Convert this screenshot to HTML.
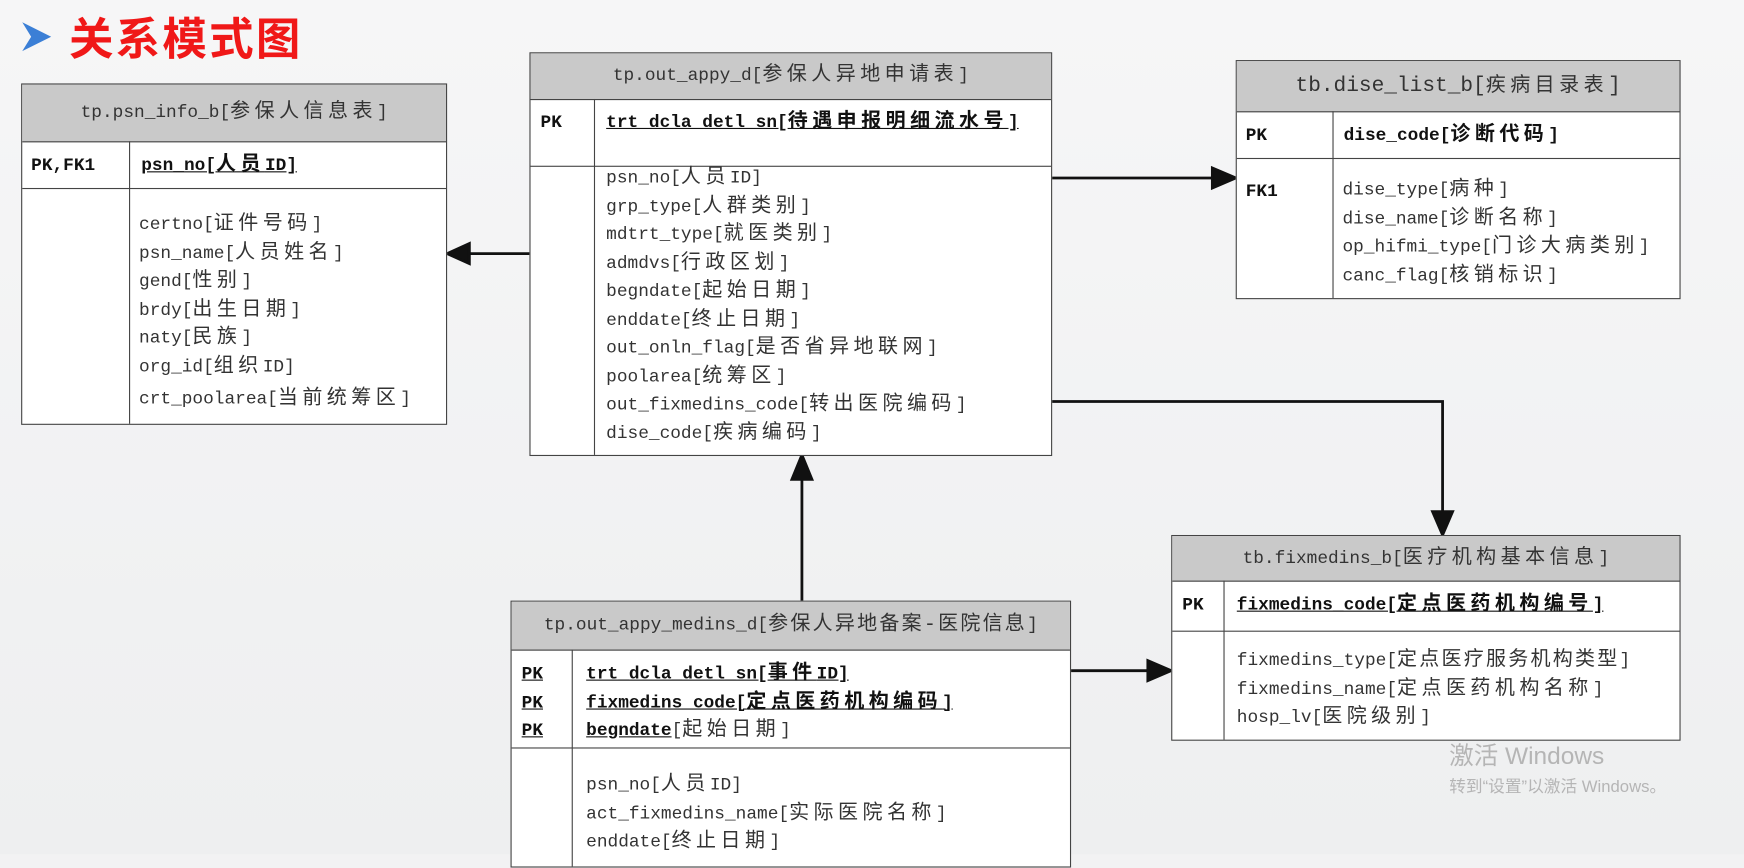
<!DOCTYPE html>
<html><head><meta charset="utf-8">
<style>
html,body{margin:0;padding:0;}
body{width:1744px;height:854px;overflow:hidden;background:#f2f2f3;}
#w{position:absolute;left:0;top:0;width:1568px;height:768px;transform:scale(1.11224);transform-origin:0 0;
background:linear-gradient(180deg,#f6f6f7 0%,#eeeff0 100%);font-family:"Liberation Mono","Noto Sans CJK SC",monospace;color:#222;}
.t{position:absolute;background:#fff;border:1.5px solid #444;box-sizing:border-box;}
.h{position:absolute;left:0;right:0;top:0;background:#c9c9c9;border-bottom:1.5px solid #444;text-align:center;font-size:16px;color:#333;}
.hl{position:absolute;left:0;right:0;border-top:1.5px solid #444;}
.vl{position:absolute;top:0;bottom:0;border-left:1.5px solid #444;}
.x{position:absolute;font-size:16px;white-space:nowrap;line-height:20px;color:#333;}
.b{font-weight:bold;color:#111;}
.u{text-decoration:underline;}
i{font-style:normal;font-size:18px;letter-spacing:4px;}
</style></head><body><div id="w">
<svg style="position:absolute;left:0;top:0" width="1568" height="768">
<polygon points="20,20 46,33 20,46 28,33" fill="#3b7fd6"/>
<g stroke="#111" stroke-width="2.5" fill="#111">
<line x1="476" y1="228" x2="420" y2="228"/><polygon points="402,228 422,219 422,237"/>
<line x1="945" y1="160" x2="1092" y2="160"/><polygon points="1111,160 1090,151 1090,169"/>
<polyline points="945,361 1297,361 1297,462" fill="none"/><polygon points="1297,481 1288,460 1306,460"/>
<line x1="721" y1="540" x2="721" y2="428"/><polygon points="721,409 712,431 730,431"/>
<line x1="962" y1="603" x2="1034" y2="603"/><polygon points="1053,603 1032,594 1032,612"/>
</g>
</svg>
<div style="position:absolute;left:62px;top:6px;font:bold 40px 'Noto Sans CJK SC',sans-serif;color:#f01818;line-height:52px;letter-spacing:2px;">关系模式图</div>

<!-- T1 -->
<div class="t" style="left:19px;top:75px;width:383px;height:307px;">
<div class="h" style="height:51px;line-height:51px;">tp.psn_info_b[<i>参保人信息表</i>]</div>
<div class="hl" style="top:93px"></div><div class="vl" style="left:96px;top:51px"></div>
<div class="x b" style="left:8px;top:63px">PK,FK1</div>
<div class="x b u" style="left:107px;top:63px">psn_no[<i>人员</i>ID]</div>
<div class="x" style="left:105px;top:114px;line-height:25.5px">certno[<i>证件号码</i>]<br>psn_name[<i>人员姓名</i>]<br>gend[<i>性别</i>]<br>brdy[<i>出生日期</i>]<br>naty[<i>民族</i>]<br>org_id[<i>组织</i>ID]<br><span style="line-height:32px">crt_poolarea[<i>当前统筹区</i>]</span></div>
</div>

<!-- T2 -->
<div class="t" style="left:476px;top:47px;width:470px;height:363px;">
<div class="h" style="height:41px;line-height:41px;">tp.out_appy_d[<i>参保人异地申请表</i>]</div>
<div class="hl" style="top:101px"></div><div class="vl" style="left:57px;top:41px"></div>
<div class="x b" style="left:9px;top:52px">PK</div>
<div class="x b u" style="left:68px;top:52px">trt_dcla_detl_sn[<i>待遇申报明细流水号</i>]</div>
<div class="x" style="left:68px;top:100px;line-height:25.5px">psn_no[<i>人员</i>ID]<br>grp_type[<i>人群类别</i>]<br>mdtrt_type[<i>就医类别</i>]<br>admdvs[<i>行政区划</i>]<br>begndate[<i>起始日期</i>]<br>enddate[<i>终止日期</i>]<br>out_onln_flag[<i>是否省异地联网</i>]<br>poolarea[<i>统筹区</i>]<br>out_fixmedins_code[<i>转出医院编码</i>]<br>dise_code[<i>疾病编码</i>]</div>
</div>

<!-- T3 -->
<div class="t" style="left:1111px;top:54px;width:400px;height:215px;">
<div class="h" style="height:45px;line-height:45px;font-size:19px;">tb.dise_list_b[<i>疾病目录表</i>]</div>
<div class="hl" style="top:87px"></div><div class="vl" style="left:86px;top:45px"></div>
<div class="x b" style="left:8px;top:57px">PK</div>
<div class="x b" style="left:96px;top:57px">dise_code[<i>诊断代码</i>]</div>
<div class="x b" style="left:8px;top:107px">FK1</div>
<div class="x" style="left:95px;top:104px;line-height:25.5px">dise_type[<i>病种</i>]<br>dise_name[<i>诊断名称</i>]<br>op_hifmi_type[<i>门诊大病类别</i>]<br>canc_flag[<i>核销标识</i>]</div>
</div>

<!-- T4 -->
<div class="t" style="left:1053px;top:481px;width:458px;height:185px;">
<div class="h" style="height:40px;line-height:40px;">tb.fixmedins_b[<i>医疗机构基本信息</i>]</div>
<div class="hl" style="top:85px"></div><div class="vl" style="left:46px;top:40px"></div>
<div class="x b" style="left:9px;top:52px">PK</div>
<div class="x b u" style="left:58px;top:52px">fixmedins_code[<i>定点医药机构编号</i>]</div>
<div class="x" style="left:58px;top:100px;line-height:25.5px">fixmedins_type[<i style="letter-spacing:2px">定点医疗服务机构类型</i>]<br>fixmedins_name[<i>定点医药机构名称</i>]<br>hosp_lv[<i>医院级别</i>]</div>
</div>

<!-- T5 -->
<div class="t" style="left:459px;top:540px;width:504px;height:240px;">
<div class="h" style="height:43px;line-height:43px;">tp.out_appy_medins_d[<i style="letter-spacing:2px">参保人异地备案-医院信息</i>]</div>
<div class="hl" style="top:131px"></div><div class="vl" style="left:54px;top:43px"></div>
<div class="x b u" style="left:9px;top:53px;line-height:25.5px">PK<br>PK<br>PK</div>
<div class="x" style="left:67px;top:53px;line-height:25.5px"><span class="b u">trt_dcla_detl_sn[<i>事件</i>ID]</span><br><span class="b u">fixmedins_code[<i>定点医药机构编码</i>]</span><br><span class="b u">begndate</span>[<i>起始日期</i>]</div>
<div class="x" style="left:67px;top:153px;line-height:25.5px">psn_no[<i>人员</i>ID]<br>act_fixmedins_name[<i>实际医院名称</i>]<br>enddate[<i>终止日期</i>]</div>
</div>

<div style="position:absolute;left:1303px;top:662px;font:22px 'Liberation Sans','Noto Sans CJK SC',sans-serif;color:#b5b5b5;">激活 Windows</div>
<div style="position:absolute;left:1303px;top:696px;font:15px 'Liberation Sans','Noto Sans CJK SC',sans-serif;color:#b5b5b5;">转到“设置”以激活 Windows。</div>
</div></body></html>
